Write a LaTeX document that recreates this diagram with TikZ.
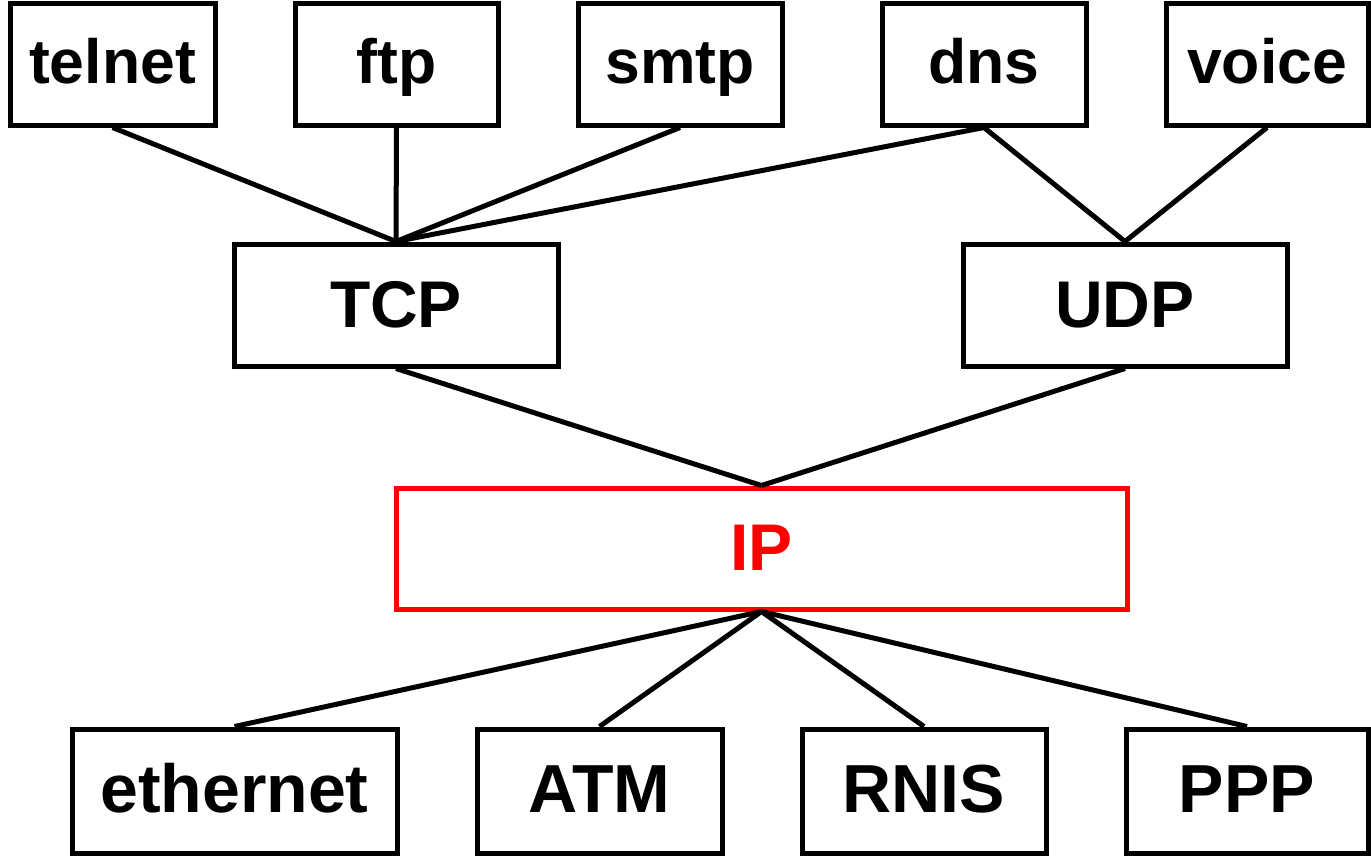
\documentclass[tikz,border=0pt]{standalone}
\usepackage{fontspec}
\setmainfont{Liberation Sans}
\begin{document}
\begin{tikzpicture}[x=1pt,y=-1pt,
  box/.style={draw=black,line width=5pt,inner sep=0pt},
  link/.style={draw=black,line width=5pt},
  lbl/.style={inner sep=0pt,anchor=base},
  topf/.style={font=\fontsize{62.5}{70}\selectfont\bfseries},
  midf/.style={font=\fontsize{66}{70}\selectfont\bfseries},
  botf/.style={font=\fontsize{68}{70}\selectfont\bfseries}]
\useasboundingbox (0,0) rectangle (1371,857);
\newcommand{\bx}[6]{\node[box,#6,minimum width={#4-#2},minimum height={#5-#3}] (#1) at ({(#2+#4)/2},{(#3+#5)/2}) {};}
\bx{telnet}{10}{3}{215}{125}{}
\bx{ftp}{295}{3}{498}{125}{}
\bx{smtp}{578}{3}{782}{125}{}
\bx{dns}{882}{3}{1086}{125}{}
\bx{voice}{1166}{3}{1368}{125}{}
\bx{tcp}{234}{244}{558}{366}{}
\bx{udp}{963}{244}{1287}{366}{}
\bx{ip}{396}{488}{1127}{609}{draw=red}
\bx{eth}{72}{729}{397}{853}{}
\bx{atm}{477}{729}{722}{853}{}
\bx{rnis}{802}{729}{1046}{853}{}
\bx{ppp}{1126}{729}{1368}{853}{}
\node[lbl,topf] at ([yshift=-19pt]telnet.center) {telnet};
\node[lbl,topf] at ([yshift=-19pt]ftp.center) {ftp};
\node[lbl,topf] at ([yshift=-19pt]smtp.center) {smtp};
\node[lbl,topf] at ([yshift=-19pt]dns.center) {dns};
\node[lbl,topf] at ([yshift=-19pt]voice.center) {voice};
\node[lbl,midf] at ([yshift=-22pt]tcp.center) {TCP};
\node[lbl,midf] at ([yshift=-22pt]udp.center) {UDP};
\node[lbl,midf,text=red] at ([yshift=-22pt]ip.center) {IP};
\node[lbl,botf] at ([yshift=-21pt]eth.center) {ethernet};
\node[lbl,botf] at ([yshift=-21pt]atm.center) {ATM};
\node[lbl,botf] at ([yshift=-21pt]rnis.center) {RNIS};
\node[lbl,botf] at ([yshift=-21pt]ppp.center) {PPP};
\foreach \a in {telnet,ftp,smtp,dns} \draw[link] (\a.south) -- (tcp.north);
\foreach \a in {dns,voice} \draw[link] (\a.south) -- (udp.north);
\draw[link] (tcp.south) -- (ip.north);
\draw[link] (udp.south) -- (ip.north);
\foreach \a in {eth,atm,rnis,ppp} \draw[link] (ip.south) -- (\a.north);
\end{tikzpicture}
\end{document}
